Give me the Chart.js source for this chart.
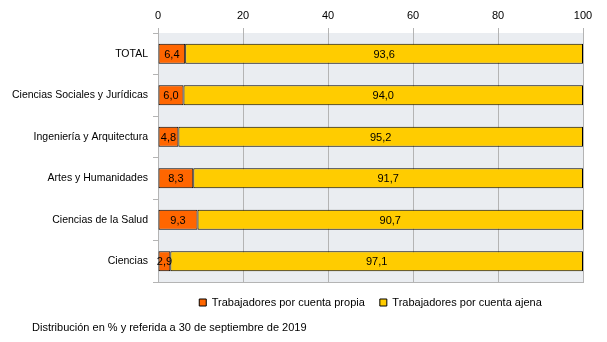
<!DOCTYPE html>
<html>
<head>
<meta charset="utf-8">
<script src="https://cdn.jsdelivr.net/npm/chart.js@4.4.0/dist/chart.umd.min.js"></script>
<style>
  html, body { margin: 0; padding: 0; background: #fff; }
  #wrap { position: relative; width: 607px; height: 342px; }
  #caption { position: absolute; left: 32px; top: 321px; font: 11px "Liberation Sans", Arial, sans-serif; color: #000; }
</style>
</head>
<body>
<div id="wrap">
  <canvas id="chart" width="607" height="342"></canvas>
  <div id="caption">Distribución en % y referida a 30 de septiembre de 2019</div>
</div>
<script>
// Chart data
const categories = ['TOTAL', 'Ciencias Sociales y Jurídicas', 'Ingeniería y Arquitectura', 'Artes y Humanidades', 'Ciencias de la Salud', 'Ciencias'];
const cuentaPropia = [6.4, 6.0, 4.8, 8.3, 9.3, 2.9];
const cuentaAjena = [93.6, 94.0, 95.2, 91.7, 90.7, 97.1];
const xTicks = [0, 20, 40, 60, 80, 100];

const FONT = 'Liberation Sans';

// Light gray plot background plus bottom border
const plotBackground = {
    id: 'plotBackground',
    beforeDraw(chart) {
        const { ctx, chartArea: a } = chart;
        ctx.save();
        ctx.fillStyle = '#EAEDF1';
        ctx.fillRect(a.left, a.top, a.right - a.left, a.bottom - a.top);
        ctx.restore();
    },
    afterDatasetsDraw(chart) {
        const { ctx, chartArea: a } = chart;
        ctx.save();
        ctx.strokeStyle = '#B4B4B4';
        ctx.lineWidth = 1;
        ctx.beginPath();
        ctx.moveTo(a.left, a.bottom + 0.5);
        ctx.lineTo(a.right + 1, a.bottom + 0.5);
        ctx.stroke();
        ctx.restore();
    }
};

// Value labels centred in each bar segment
const barLabels = {
    id: 'barLabels',
    afterDatasetsDraw(chart) {
        const { ctx } = chart;
        ctx.save();
        ctx.font = '11px ' + FONT;
        ctx.fillStyle = '#000';
        ctx.textAlign = 'center';
        ctx.textBaseline = 'middle';
        chart.data.datasets.forEach((ds, i) => {
            chart.getDatasetMeta(i).data.forEach((bar, j) => {
                const cx = (bar.x + bar.base) / 2;
                ctx.fillText(ds.data[j].toFixed(1).replace('.', ','), cx, bar.y + 1);
            });
        });
        ctx.restore();
    }
};

new Chart(document.getElementById('chart'), {
    type: 'bar',
    data: {
        labels: categories,
        datasets: [
            {
                label: 'Trabajadores por cuenta propia',
                data: cuentaPropia,
                backgroundColor: '#FF6600',
                borderColor: '#000',
                borderWidth: 1,
                borderSkipped: false,
                categoryPercentage: 1,
                barPercentage: 0.48
            },
            {
                label: 'Trabajadores por cuenta ajena',
                data: cuentaAjena,
                backgroundColor: '#FFCC00',
                borderColor: '#000',
                borderWidth: 1,
                borderSkipped: false,
                categoryPercentage: 1,
                barPercentage: 0.48
            }
        ]
    },
    options: {
        indexAxis: 'y',
        responsive: false,
        animation: false,
        layout: { padding: { left: 0, right: 24, top: 0, bottom: 24 } },
        plugins: {
            legend: {
                position: 'bottom',
                fullSize: false,
                labels: {
                    font: { family: FONT, size: 11 },
                    color: '#000',
                    boxWidth: 7,
                    boxHeight: 7,
                    padding: 15,
                    useBorderRadius: false
                }
            },
            tooltip: { enabled: false }
        },
        scales: {
            x: {
                position: 'top',
                stacked: true,
                min: 0,
                max: 100,
                afterBuildTicks: (scale) => { scale.ticks = xTicks.map(v => ({ value: v })); },
                ticks: { font: { family: FONT, size: 11 }, color: '#000', padding: 5 },
                grid: { color: '#B4B4B4', tickLength: 5 },
                border: { display: false },
                afterFit: (scale) => { scale.height = 33; }
            },
            y: {
                stacked: true,
                ticks: { font: { family: FONT, size: 10.5 }, color: '#000', padding: 5 },
                grid: { color: '#B4B4B4', drawOnChartArea: false, tickLength: 5, offset: true },
                border: { color: '#B4B4B4' },
                afterFit: (scale) => { scale.width = 158; }
            }
        }
    },
    plugins: [plotBackground, barLabels]
});
</script>
</body>
</html>
